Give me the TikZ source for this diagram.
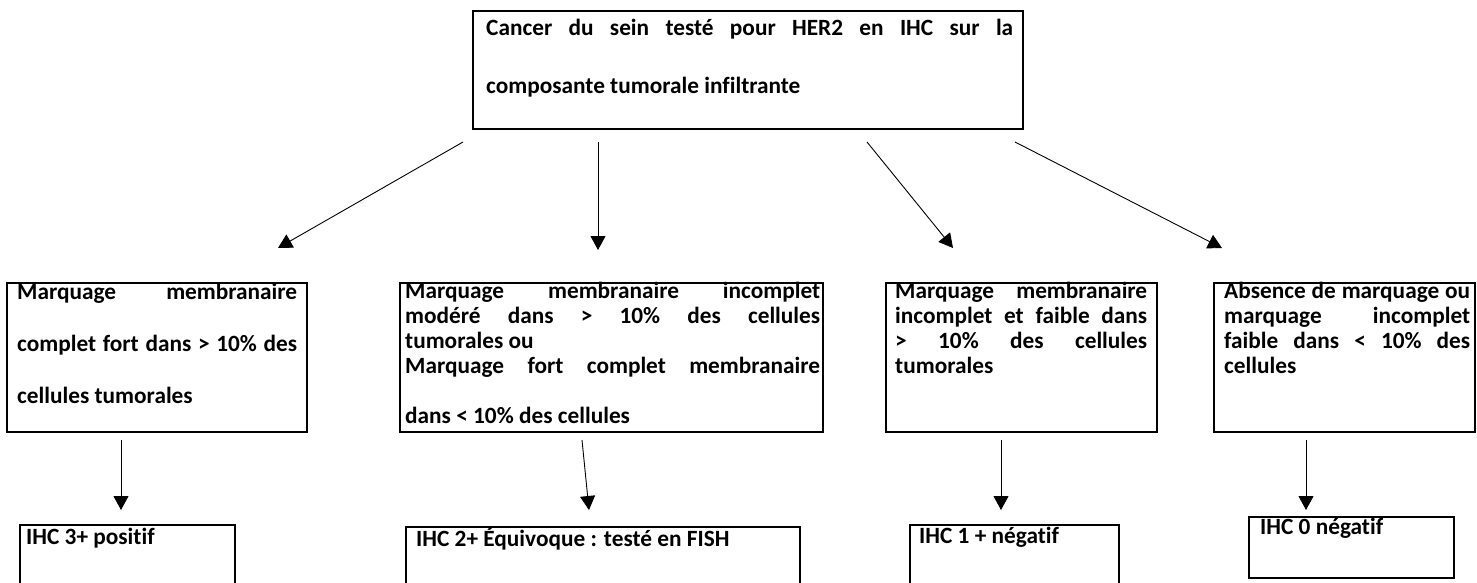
\documentclass[tikz,border=0pt]{standalone}
\usepackage{fontspec}
\setmainfont{Carlito}[Ligatures=NoCommon]
\usetikzlibrary{arrows.meta}
\newcommand{\jl}[1]{{\parfillskip=0pt #1\par}}
\newcommand{\tb}[3]{\vtop{\hsize=#1\parindent=0pt\baselineskip=#2\relax
  \tolerance=10000 \hbadness=10000 \hfuzz=20pt \hyphenpenalty=10000 \exhyphenpenalty=10000 #3}}
\tikzset{
  box/.style={draw, line width=2pt, inner sep=0pt, outer sep=0pt, anchor=north west},
  txt/.style={inner sep=0pt, anchor=base west, font=\bfseries\fontsize{23.3}{25.3}\selectfont},
  arr/.style={line width=0.9pt, -{Triangle[width=15pt,length=14pt]}},
}
\begin{document}
\begin{tikzpicture}[x=1pt,y=-1pt]
\clip (0,0) rectangle (1477,583);
\fill[white] (0,0) rectangle (1477,583);

% top box
\node[box, minimum width=550pt, minimum height=118pt] (top) at (473,11) {};
\node[txt] (toptxt) at (486,36) {\tb{527pt}{58pt}{\jl{Cancer du sein testé pour HER2 en IHC sur la}composante tumorale infiltrante\par}};

% middle boxes
\node[box, minimum width=300pt, minimum height=149pt] (b1) at (7,283) {};
\node[txt] (b1txt) at (17,299) {\tb{280pt}{52pt}{\jl{Marquage membranaire}\jl{complet fort dans > 10\% des}cellules tumorales\par}};

\node[box, minimum width=423pt, minimum height=149pt] (b2) at (400,283) {};
\node[txt] (b2txt) at (405,298) {\tb{415pt}{25.3pt}{\jl{Marquage membranaire incomplet}\jl{modéré dans > 10\% des cellules}tumorales ou\par\jl{Marquage fort complet membranaire}\vspace{24.7pt}dans < 10\% des cellules\par}};

\node[box, minimum width=271pt, minimum height=149pt] (b3) at (886,283) {};
\node[txt] (b3txt) at (895,298) {\tb{252pt}{25.3pt}{\jl{Marquage membranaire}\jl{incomplet et faible dans}\jl{> 10\% des cellules}tumorales\par}};

\node[box, minimum width=261pt, minimum height=149pt] (b4) at (1214,283) {};
\node[txt] (b4txt) at (1224,298) {\tb{246pt}{25.3pt}{\jl{Absence de marquage ou}\jl{marquage incomplet}\jl{faible dans < 10\% des}cellules\par}};

% bottom boxes
\node[box, minimum width=215pt, minimum height=80pt] (c1) at (20,525) {};
\node[txt] (c1txt) at (26,544) {IHC 3+ positif};
\node[box, minimum width=394pt, minimum height=80pt] (c2) at (406,527) {};
\node[txt] (c2txt) at (416,546) {IHC 2+ Équivoque : testé en FISH};
\node[box, minimum width=209pt, minimum height=80pt] (c3) at (910,525) {};
\node[txt] (c3txt) at (919,543) {IHC 1 + négatif};
\node[box, minimum width=205pt, minimum height=61pt] (c4) at (1249,517) {};
\node[txt] (c4txt) at (1260,534) {IHC 0 négatif};

% arrow end points
\coordinate (a1s) at (463,142); \coordinate (a1e) at (278,248);
\coordinate (a2s) at (598,142); \coordinate (a2e) at (598,250);
\coordinate (a3s) at (867,142); \coordinate (a3e) at (953,248);
\coordinate (a4s) at (1015,142); \coordinate (a4e) at (1222,248);
\coordinate (d1s) at (121,440); \coordinate (d1e) at (121,510);
\coordinate (d2s) at (582,440); \coordinate (d2e) at (589,510);
\coordinate (d3s) at (1001,440); \coordinate (d3e) at (1001,510);
\coordinate (d4s) at (1306,440); \coordinate (d4e) at (1306,510);

\draw[arr] (a1s) -- (a1e);
\draw[arr] (a2s) -- (a2e);
\draw[arr] (a3s) -- (a3e);
\draw[arr] (a4s) -- (a4e);
\draw[arr] (d1s) -- (d1e);
\draw[arr] (d2s) -- (d2e);
\draw[arr] (d3s) -- (d3e);
\draw[arr] (d4s) -- (d4e);
\end{tikzpicture}
\end{document}
